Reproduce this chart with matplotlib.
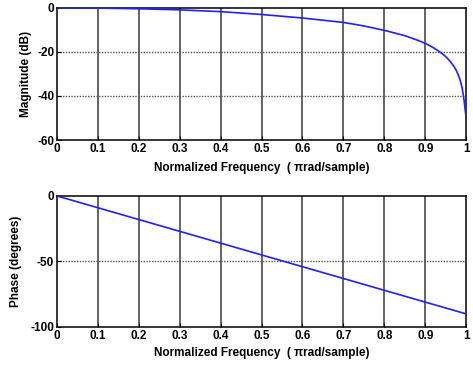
import matplotlib
matplotlib.use("Agg")
import matplotlib.pyplot as plt

# magnitude response
freq_mag = [0, 0.1, 0.2, 0.3, 0.4, 0.5, 0.6, 0.7, 0.75, 0.8, 0.85, 0.88, 0.9, 0.92,
            0.93, 0.94, 0.95, 0.96, 0.97, 0.975, 0.98, 0.985, 0.99, 0.995, 1.0]
mag_db = [0, -0.1, -0.4, -0.9, -1.7, -3.0, -4.6, -6.6, -8.2, -10.2, -12.6, -14.6, -16.1, -18.1,
          -19.3, -20.6, -22.1, -24.1, -26.5, -28.1, -30.1, -32.6, -36.1, -42.1, -50]

# phase response
freq_ph = [0, 0.1, 0.2, 0.3, 0.4, 0.5, 0.6, 0.7, 0.8, 0.9, 1.0]
phase_deg = [0, -9, -18, -27, -36, -45, -54, -63, -72, -81, -90]

xticks = [0, 0.1, 0.2, 0.3, 0.4, 0.5, 0.6, 0.7, 0.8, 0.9, 1]
xticklabels = ["0", "0.1", "0.2", "0.3", "0.4", "0.5", "0.6", "0.7", "0.8", "0.9", "1"]

plt.rcParams["font.family"] = ["Liberation Sans", "DejaVu Sans"]
plt.rcParams["font.size"] = 8.5
plt.rcParams["font.weight"] = "bold"

fig = plt.figure(figsize=(4.73, 3.67), dpi=100)
ax1 = fig.add_axes([0.1205, 0.6185, 0.865, 0.36])
ax2 = fig.add_axes([0.1205, 0.109, 0.865, 0.357])


def habillage(ax, yticks, ylim, ylabel, xlab_y, ylab_x):
    ax.set_xlim(0, 1)
    ax.set_ylim(ylim)
    ax.set_xticks(xticks)
    ax.set_xticklabels(xticklabels, fontweight="bold")
    ax.set_yticks(yticks)
    ax.set_yticklabels([str(v) for v in yticks], fontweight="bold")
    for x in xticks[1:-1]:
        ax.axvline(x, color="#3a3a3a", linewidth=1.1, zorder=1)
    for y in yticks[1:-1]:
        ax.axhline(y, color="#555555", linewidth=1.0, linestyle=(0, (1, 1)), zorder=1)
    ax.tick_params(direction="in", length=3, width=0.8, pad=2)
    for s in ax.spines.values():
        s.set_linewidth(1.1)
        s.set_color("black")
    ax.set_xlabel("Normalized Frequency  ( \u03c0rad/sample)", fontweight="bold")
    ax.set_ylabel(ylabel, fontweight="bold")
    ax.xaxis.set_label_coords(0.5, xlab_y)
    ax.yaxis.set_label_coords(ylab_x, 0.5)


ax1.plot(freq_mag, mag_db, color="#2020ff", linewidth=1.2, zorder=3)
habillage(ax1, [-60, -40, -20, 0], (-60, 0), "Magnitude (dB)", -0.17, -0.062)

ax2.plot(freq_ph, phase_deg, color="#2020ff", linewidth=1.2, zorder=3)
habillage(ax2, [-100, -50, 0], (-100, 0), "Phase (degrees)", -0.155, -0.085)

fig.savefig("out.png", dpi=100)
